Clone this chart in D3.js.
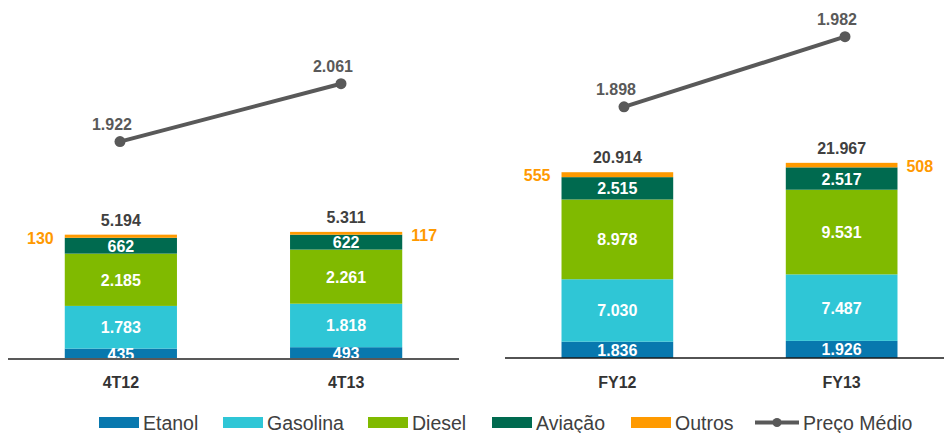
<!DOCTYPE html>
<html>
<head>
<meta charset="utf-8">
<script src="https://cdn.jsdelivr.net/npm/d3@7"></script>
<style>
  body { margin: 0; background: #fff; }
  text { font-family: "Liberation Sans", Arial, sans-serif; }
</style>
</head>
<body>
<div id="chart"></div>
<script>
// volumes de vendas (mil m3) e preco medio
var periods  = ["4T12", "4T13", "FY12", "FY13"];
var etanol   = [435, 493, 1836, 1926];
var gasolina = [1783, 1818, 7030, 7487];
var diesel   = [2185, 2261, 8978, 9531];
var aviacao  = [662, 622, 2515, 2517];
var outros   = [130, 117, 555, 508];
var totais   = [5194, 5311, 20914, 21967];
var preco    = [1922, 2061, 1898, 1982];

var seriesNames  = ["Etanol", "Gasolina", "Diesel", "Aviação", "Outros"];
var seriesValues = [etanol, gasolina, diesel, aviacao, outros];
var colors = ["#0878AE", "#2FC6D6", "#80BA00", "#006A4F", "#FF9A00"];
var lineColor = "#595959";

var br = d3.formatLocale({decimal: ",", thousands: ".", grouping: [3], currency: ["R$", ""]});
var fmt = br.format(",d");

var width = 944, height = 433;
var svg = d3.select("#chart").append("svg")
    .attr("width", width)
    .attr("height", height);

// two panels: quarter and full year, each with its own scales
var panels = [
  {idx: [0, 1], base: 359, xr: [8, 459], band: [8, 459], pt: [120, 341],
   yMax: 15000, pDom: [1400, 2262], axisColor: "#595959", axisW: 2},
  {idx: [2, 3], base: 358, xr: [505, 944], band: [505, 954], pt: [624, 845],
   yMax: 40300, pDom: [1597, 2026], axisColor: "#1a1a1a", axisW: 1.5}
];

panels.forEach(function(p, pi) {
  var cats = p.idx.map(function(i) { return periods[i]; });

  var x = d3.scaleBand()
    .domain(cats)
    .range(p.band)
    .paddingInner(0.502)
    .paddingOuter(0.252);

  var y = d3.scaleLinear().domain([0, p.yMax]).range([p.base, 0]);
  var yp = d3.scaleLinear().domain(p.pDom).range([p.base, 0]);
  var xl = d3.scalePoint().domain(cats).range(p.pt);

  var rows = p.idx.map(function(i) {
    var r = {cat: periods[i], i: i};
    seriesNames.forEach(function(s, k) { r[s] = seriesValues[k][i]; });
    return r;
  });
  var stacked = d3.stack().keys(seriesNames)(rows);

  svg.append("clipPath").attr("id", "clip" + pi)
    .append("rect")
    .attr("x", p.xr[0]).attr("y", 0)
    .attr("width", p.xr[1] - p.xr[0]).attr("height", p.base);

  var g = svg.append("g");

  // bars
  stacked.forEach(function(layer, k) {
    g.selectAll(null)
      .data(layer)
      .enter().append("rect")
      .attr("x", function(d) { return x(d.data.cat); })
      .attr("y", function(d) { return y(d[1]); })
      .attr("width", x.bandwidth())
      .attr("height", function(d) { return y(d[0]) - y(d[1]); })
      .attr("fill", colors[k]);
  });

  // white labels inside segments (not outros)
  var lab = g.append("g").attr("clip-path", "url(#clip" + pi + ")");
  stacked.slice(0, 4).forEach(function(layer) {
    lab.selectAll(null)
      .data(layer)
      .enter().append("text")
      .attr("x", function(d) { return x(d.data.cat) + x.bandwidth() / 2; })
      .attr("y", function(d) { return (y(d[0]) + y(d[1])) / 2 + 6; })
      .attr("text-anchor", "middle")
      .attr("font-size", 16)
      .attr("font-weight", "bold")
      .attr("fill", "#fff")
      .text(function(d) { return fmt(d[1] - d[0]); });
  });

  // outros labels, left of first bar and right of second
  var top = stacked[4];
  g.selectAll(null)
    .data(top)
    .enter().append("text")
    .attr("x", function(d, j) {
      return j === 0 ? x(d.data.cat) - 11 : x(d.data.cat) + x.bandwidth() + 9;
    })
    .attr("y", function(d) { return y(d[1]) + 9; })
    .attr("text-anchor", function(d, j) { return j === 0 ? "end" : "start"; })
    .attr("font-size", 16)
    .attr("font-weight", "bold")
    .attr("fill", "#FF9900")
    .text(function(d) { return fmt(d[1] - d[0]); });

  // totals
  g.selectAll(null)
    .data(top)
    .enter().append("text")
    .attr("x", function(d) { return x(d.data.cat) + x.bandwidth() / 2; })
    .attr("y", function(d) { return y(d[1]) - 9; })
    .attr("text-anchor", "middle")
    .attr("font-size", 16)
    .attr("font-weight", "bold")
    .attr("fill", "#404040")
    .text(function(d) { return fmt(totais[d.data.i]); });

  // baseline
  g.append("line")
    .attr("x1", p.xr[0]).attr("x2", p.xr[1])
    .attr("y1", p.base).attr("y2", p.base)
    .attr("stroke", p.axisColor)
    .attr("stroke-width", p.axisW);

  // category labels
  g.selectAll(null)
    .data(rows)
    .enter().append("text")
    .attr("x", function(d) { return x(d.cat) + x.bandwidth() / 2; })
    .attr("y", 388)
    .attr("text-anchor", "middle")
    .attr("font-size", 16)
    .attr("font-weight", "bold")
    .attr("fill", "#333333")
    .text(function(d) { return d.cat; });

  // preco medio line
  var line = d3.line()
    .x(function(d) { return xl(d.cat); })
    .y(function(d) { return yp(preco[d.i]); });
  g.append("path")
    .datum(rows)
    .attr("d", line)
    .attr("fill", "none")
    .attr("stroke", lineColor)
    .attr("stroke-width", 4);
  g.selectAll(null)
    .data(rows)
    .enter().append("circle")
    .attr("cx", function(d) { return xl(d.cat); })
    .attr("cy", function(d) { return yp(preco[d.i]); })
    .attr("r", 5.5)
    .attr("fill", lineColor);
  g.selectAll(null)
    .data(rows)
    .enter().append("text")
    .attr("x", function(d) { return xl(d.cat) - 8; })
    .attr("y", function(d) { return yp(preco[d.i]) - 12; })
    .attr("text-anchor", "middle")
    .attr("font-size", 16)
    .attr("font-weight", "bold")
    .attr("fill", lineColor)
    .text(function(d) { return fmt(preco[d.i]); });
});

// legend
var legendX = [99, 223, 368, 492, 631];
var leg = svg.append("g");
seriesNames.forEach(function(s, k) {
  leg.append("rect")
    .attr("x", legendX[k]).attr("y", 417)
    .attr("width", 40).attr("height", 11)
    .attr("fill", colors[k]);
  leg.append("text")
    .attr("x", legendX[k] + 44)
    .attr("y", 430)
    .attr("font-size", 19.5)
    .attr("fill", "#404040")
    .text(s);
});
leg.append("line")
  .attr("x1", 755).attr("x2", 799)
  .attr("y1", 422.5).attr("y2", 422.5)
  .attr("stroke", lineColor).attr("stroke-width", 4);
leg.append("circle")
  .attr("cx", 777).attr("cy", 422.5).attr("r", 4.5)
  .attr("fill", lineColor);
leg.append("text")
  .attr("x", 803)
  .attr("y", 430)
  .attr("font-size", 19.5)
  .attr("fill", "#404040")
  .text("Preço Médio");
</script>
</body>
</html>
